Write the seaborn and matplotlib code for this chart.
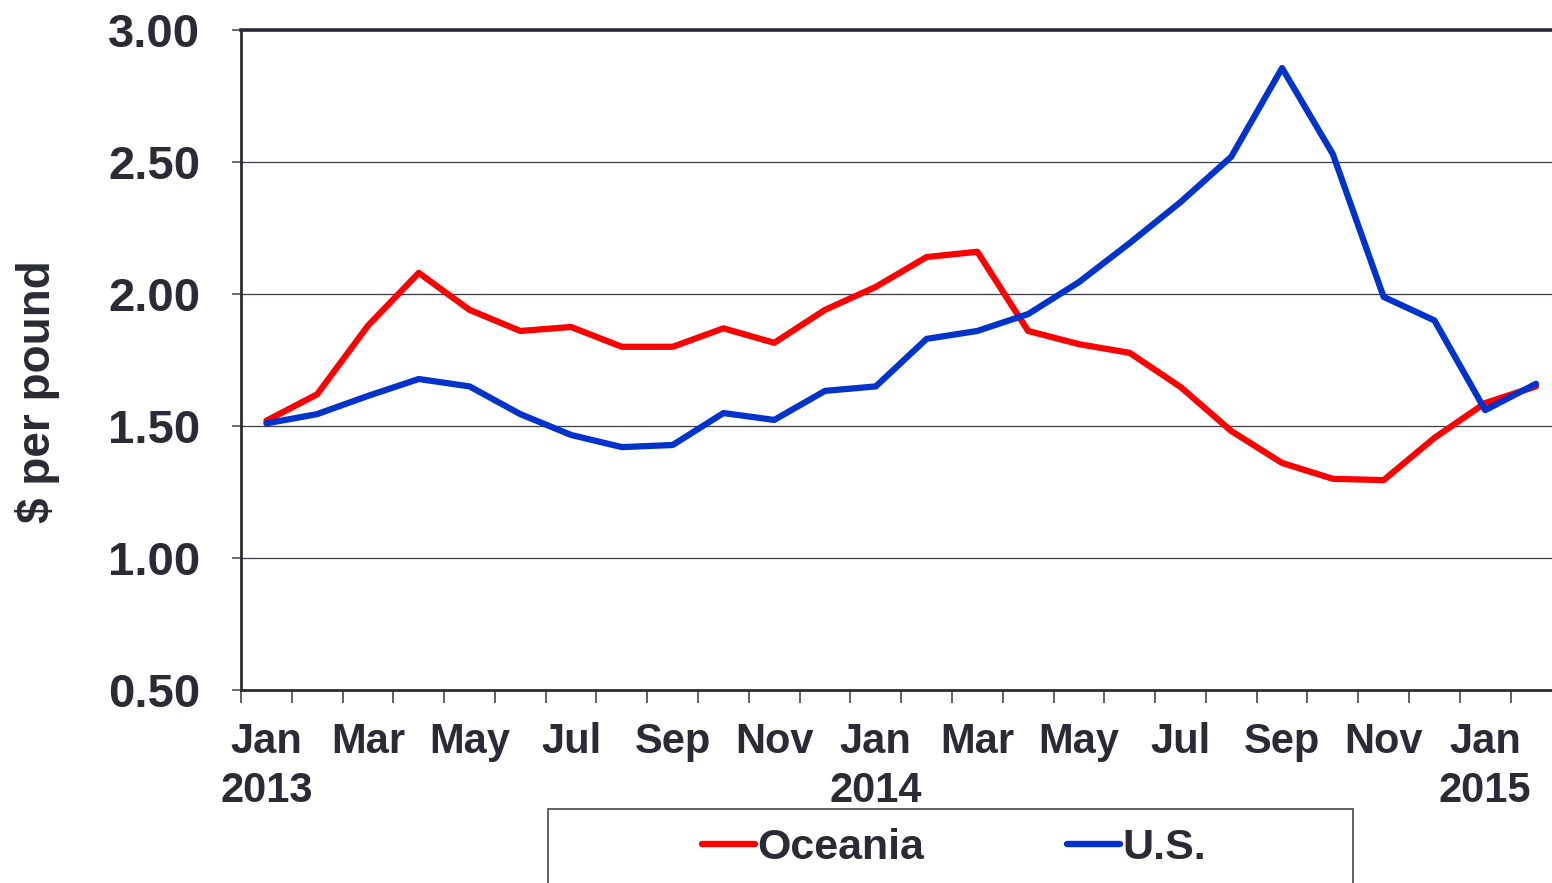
import matplotlib
matplotlib.use('Agg')
import matplotlib.pyplot as plt
import seaborn as sns
import pandas as pd
from matplotlib.patches import Rectangle
from matplotlib.ticker import FixedLocator

# ---- data ----
months = ['Jan 2013', 'Feb 2013', 'Mar 2013', 'Apr 2013', 'May 2013', 'Jun 2013',
          'Jul 2013', 'Aug 2013', 'Sep 2013', 'Oct 2013', 'Nov 2013', 'Dec 2013',
          'Jan 2014', 'Feb 2014', 'Mar 2014', 'Apr 2014', 'May 2014', 'Jun 2014',
          'Jul 2014', 'Aug 2014', 'Sep 2014', 'Oct 2014', 'Nov 2014', 'Dec 2014',
          'Jan 2015', 'Feb 2015']
oceania = [1.52, 1.62, 1.88, 2.08, 1.94, 1.86, 1.875, 1.80, 1.80, 1.87, 1.815, 1.94,
           2.027, 2.14, 2.16, 1.86, 1.81, 1.777, 1.648, 1.481, 1.36, 1.30, 1.295, 1.455,
           1.587, 1.65]
us = [1.51, 1.545, 1.614, 1.678, 1.65, 1.545, 1.466, 1.42, 1.428, 1.549, 1.523, 1.633,
      1.65, 1.83, 1.86, 1.924, 2.045, 2.193, 2.348, 2.52, 2.856, 2.53, 1.989, 1.90,
      1.56, 1.66]
tick_labels = ['Jan\n2013', 'Mar', 'May', 'Jul', 'Sep', 'Nov', 'Jan\n2014', 'Mar', 'May',
               'Jul', 'Sep', 'Nov', 'Jan\n2015']
y_ticks = [0.50, 1.00, 1.50, 2.00, 2.50, 3.00]
series_names = ['Oceania', 'U.S.']
colors = {'Oceania': '#FF0000', 'U.S.': '#0033CC'}

n = len(months)
df = pd.DataFrame({
    'idx': list(range(n)) * 2,
    'price': oceania + us,
    'series': [series_names[0]] * n + [series_names[1]] * n,
})

sns.set_theme(style='white')
plt.rcParams['font.family'] = ['Liberation Sans', 'DejaVu Sans']
plt.rcParams['font.weight'] = 'bold'
TXT = '#2b2b36'

W, H = 1552, 883
fig = plt.figure(figsize=(W / 100, H / 100), dpi=100)
ax = fig.add_axes([241 / W, 1 - 690 / H, (1552 - 241) / W, (690 - 30) / H])

sns.lineplot(data=df, x='idx', y='price', hue='series', palette=colors,
             linewidth=4.5, ax=ax, legend=True)

handles, labels = ax.get_legend_handles_labels()
ax.get_legend().remove()

ax.set_xlim(-0.5, (1552 - 267) / 50.76)
ax.set_ylim(0.5, 3.0)
ax.set_xlabel('')
ax.set_ylabel('')

# x ticks
ax.xaxis.set_major_locator(FixedLocator(list(range(0, n, 2))))
ax.set_xticklabels(tick_labels)
ax.xaxis.set_minor_locator(FixedLocator([i - 0.5 for i in range(n)]))
ax.tick_params(axis='x', which='major', length=0, pad=23, labelsize=30,
               labelcolor=TXT)
ax.tick_params(axis='x', which='minor', length=9.5, width=1.3, color='#555555',
               direction='out', bottom=True)
for t in ax.get_xticklabels():
    t.set_fontweight('bold')
    t.set_linespacing(1.3)

# y ticks
ax.set_yticks(y_ticks)
ax.set_yticklabels([f'{v:.2f}' for v in y_ticks])
ax.tick_params(axis='y', which='major', length=6.5, width=1.2, color='#555555',
               direction='out', left=True, pad=23, labelsize=34, labelcolor=TXT)
for t in ax.get_yticklabels():
    t.set_fontweight('bold')

ax.yaxis.grid(True, color='#3c3c44', linewidth=0.9)
ax.xaxis.grid(False)
ax.set_axisbelow(True)

for side in ['left', 'bottom']:
    ax.spines[side].set_color('#2b2b36')
    ax.spines[side].set_linewidth(2.0)
ax.spines['top'].set_color('#2b2b36')
ax.spines['top'].set_linewidth(2.6)
ax.spines['right'].set_visible(False)

fig.text(38 / W, 1 - 392 / H, '$ per pound', rotation=90, ha='center', va='center',
         fontsize=33, fontweight='bold', color=TXT)

# legend box
fig.patches.append(Rectangle((548 / W, -0.02), (1353 - 548) / W, (883 - 809) / H + 0.02,
                             transform=fig.transFigure, fill=False,
                             edgecolor='#555555', linewidth=1.3, clip_on=False))
leg = fig.legend(handles, labels, loc='center', bbox_to_anchor=(954 / W, 1 - 848 / H),
                 ncol=2, frameon=False, handlelength=1.25, handletextpad=0.05,
                 columnspacing=3.3,
                 prop={'family': ['Liberation Sans Narrow', 'Liberation Sans'],
                       'weight': 'bold', 'size': 31})
for t in leg.get_texts():
    t.set_color(TXT)
for l in leg.get_lines():
    l.set_linewidth(4.6)
    l.set_solid_capstyle('round')

fig.savefig('out.png', dpi=100)
